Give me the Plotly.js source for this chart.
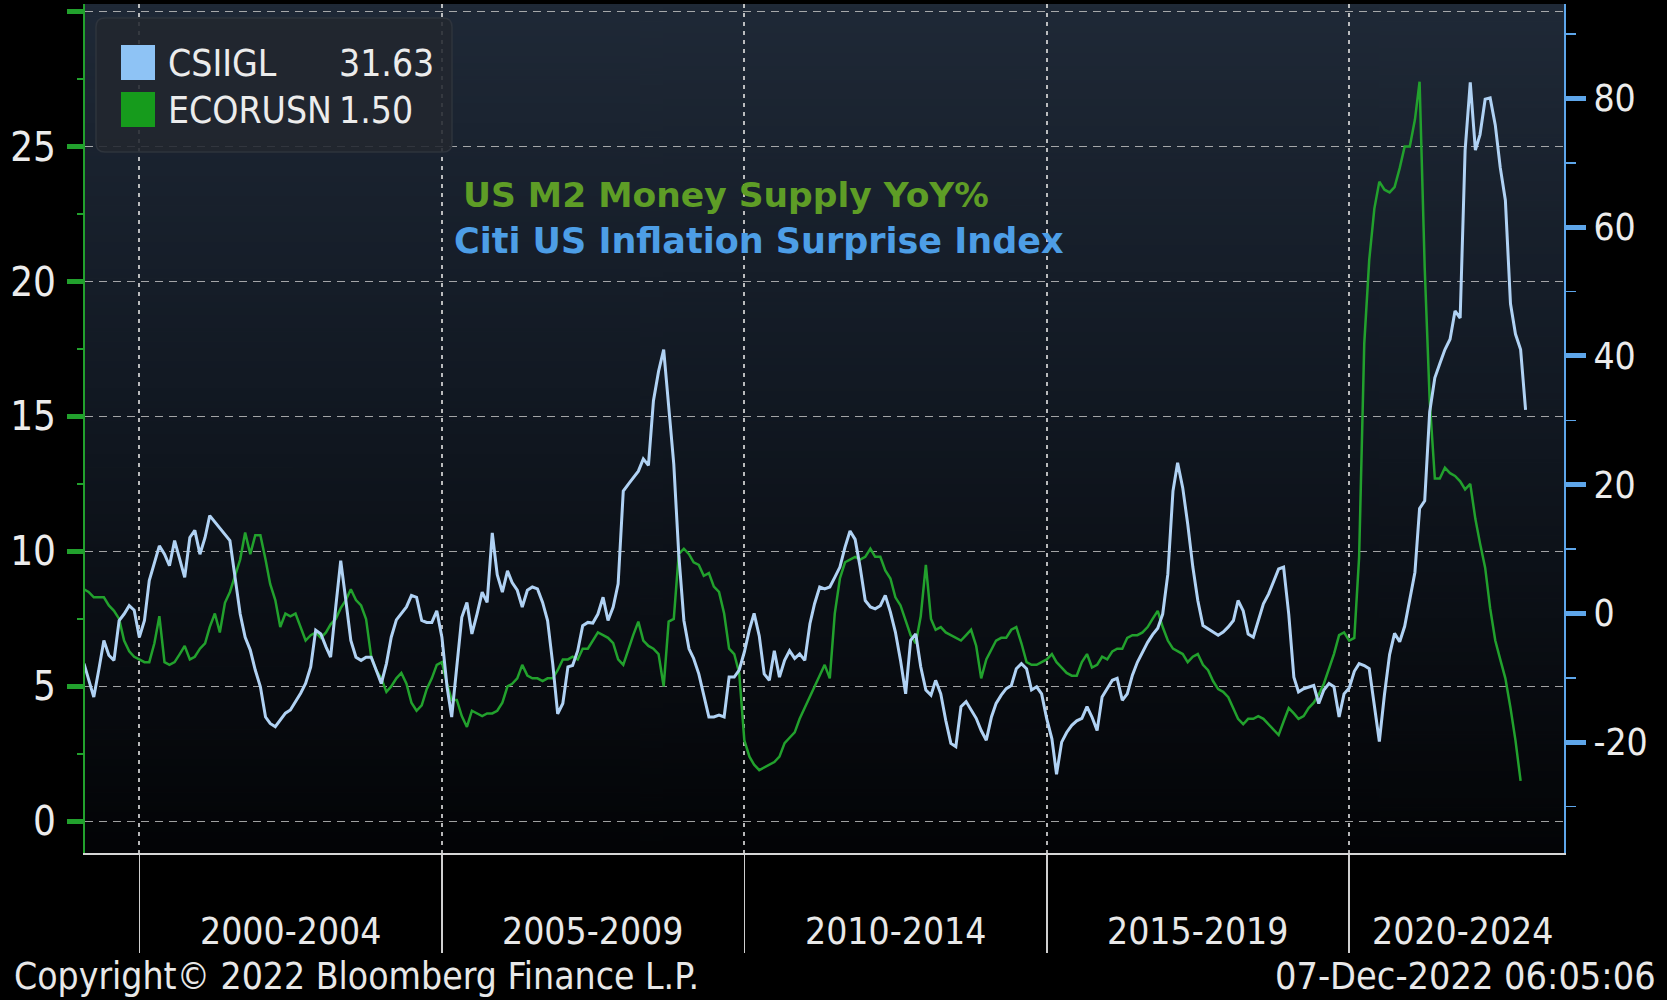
<!DOCTYPE html>
<html>
<head>
<meta charset="utf-8">
<script src="https://cdn.plot.ly/plotly-3.0.1.min.js"></script>
<style>
html,body{margin:0;padding:0;background:#000;}
#chart{width:1667px;height:1000px;}
</style>
</head>
<body>
<div id="chart"></div>
<script>
// ---------------- DATA ----------------
// Monthly observations, first month of both series
const firstMonth = '1999-02';

// CSIIGL - Citi US Inflation Surprise Index (right axis), Feb 1999 .. Dec 2022
const csiiglValues = [
  -7.8, -10.4, -13.0, -8.8, -4.2, -6.5, -7.3, -1.1, -0.1, 1.2, 0.5,
  -3.7, -1.1, 5.1, 7.7, 10.5, 9.2, 7.4, 11.3, 8.2, 5.6, 11.8, 12.9,
  9.2, 11.8, 15.2, 14.2, 13.1, 12.1, 11.3, 5.6, -0.1, -3.7, -5.7, -8.8,
  -11.4, -16.1, -17.1, -17.6, -16.6, -15.5, -15.0, -13.7, -12.4, -10.9, -8.3, -2.6,
  -3.2, -5.2, -6.8, 1.0, 8.2, 2.0, -4.2, -6.8, -7.3, -6.8, -6.8, -8.8,
  -10.9, -7.8, -3.7, -1.0, 0.0, 1.0, 2.8, 2.5, -1.1, -1.4, -1.4, 0.4,
  -3.7, -11.4, -16.1, -7.8, -0.6, 1.7, -3.2, -0.1, 3.3, 1.7, 12.5, 6.0,
  3.3, 6.6, 4.8, 3.6, 1.0, 3.6, 4.1, 3.8, 1.7, -1.1, -7.8, -15.6,
  -14.0, -8.3, -8.1, -5.8, -1.9, -1.4, -1.5, -0.1, 2.5, -1.1, 1.0, 4.6,
  19.0, 20.1, 21.1, 22.1, 24.0, 23.0, 33.0, 37.6, 41.0, 32.0, 23.2, 9.2,
  -1.1, -5.5, -7.0, -9.4, -12.5, -16.1, -16.1, -15.8, -16.1, -9.9, -9.9, -8.8,
  -6.0, -2.5, 0.0, -3.5, -9.4, -10.4, -5.8, -9.9, -7.3, -5.8, -7.0, -6.3,
  -7.3, -1.6, 1.5, 4.1, 3.8, 4.1, 5.6, 7.2, 10.3, 12.8, 11.5, 7.2,
  2.0, 1.0, 0.7, 1.2, 2.8, 0.2, -2.9, -7.3, -12.5, -4.2, -3.2, -8.3,
  -11.9, -12.7, -10.4, -12.5, -16.6, -20.2, -20.7, -14.5, -13.7, -15.0, -16.3, -18.2,
  -19.7, -16.1, -14.0, -12.7, -11.7, -11.2, -8.6, -7.8, -8.6, -11.9, -11.4, -12.5,
  -16.4, -19.5, -25.0, -20.0, -18.5, -17.4, -16.7, -16.3, -14.5, -16.1, -18.2, -13.0,
  -11.7, -10.4, -10.1, -13.5, -12.5, -9.6, -7.6, -6.0, -4.5, -3.3, -2.3, -0.1,
  6.1, 19.0, 23.4, 19.5, 13.9, 7.2, 2.0, -1.9, -2.4, -2.9, -3.4, -2.9,
  -2.1, -1.1, 2.0, 0.4, -3.2, -3.7, -1.1, 1.5, 3.0, 4.8, 6.9, 7.2,
  -0.1, -9.9, -12.2, -11.7, -11.4, -11.2, -14.0, -11.9, -10.9, -11.4, -16.1, -12.5,
  -11.6, -9.0, -7.8, -8.1, -8.6, -14.1, -19.9, -12.6, -6.4, -3.1, -4.4, -2.0,
  2.0, 6.4, 16.3, 17.5, 31.3, 36.6, 38.8, 41.0, 42.6, 47.0, 45.9, 72.0,
  82.5, 72.0, 74.4, 79.9, 80.1, 75.9, 69.3, 64.2, 48.1, 43.4, 41.0, 31.63
];

// ECORUSN - US M2 Money Supply YoY% (left axis), Feb 1999 .. Nov 2022
const ecorusnValues = [
  8.6, 8.5, 8.3, 8.3, 8.3, 8.0, 7.8, 7.5, 6.7, 6.3, 6.1,
  6.0, 5.9, 5.9, 6.6, 7.6, 5.9, 5.8, 5.9, 6.2, 6.5, 6.0, 6.1,
  6.4, 6.6, 7.2, 7.7, 7.0, 8.1, 8.5, 9.1, 9.7, 10.7, 9.9, 10.6,
  10.6, 9.7, 8.8, 8.2, 7.2, 7.7, 7.6, 7.7, 7.2, 6.7, 6.9, 7.0,
  6.8, 7.0, 7.3, 7.5, 7.9, 8.2, 8.6, 8.2, 8.0, 7.5, 6.1, 5.6,
  5.3, 4.8, 5.0, 5.3, 5.5, 5.1, 4.4, 4.1, 4.3, 4.9, 5.3, 5.8,
  5.9, 5.1, 4.5, 4.5, 3.9, 3.5, 4.1, 4.0, 3.9, 4.0, 4.0, 4.1,
  4.4, 5.0, 5.1, 5.3, 5.8, 5.4, 5.3, 5.3, 5.2, 5.3, 5.3, 5.6,
  6.0, 6.0, 6.1, 6.0, 6.4, 6.4, 6.7, 7.0, 6.9, 6.8, 6.6, 6.0,
  5.8, 6.4, 6.9, 7.4, 6.7, 6.5, 6.4, 6.2, 5.0, 7.4, 7.5, 9.9,
  10.1, 9.9, 9.6, 9.5, 9.1, 9.2, 8.7, 8.5, 7.7, 6.4, 6.2, 5.5,
  3.0, 2.4, 2.1, 1.9, 2.0, 2.1, 2.2, 2.4, 2.9, 3.1, 3.3, 3.8,
  4.2, 4.6, 5.0, 5.4, 5.8, 5.3, 7.7, 9.0, 9.6, 9.7, 9.8, 9.7,
  9.8, 10.1, 9.8, 9.8, 9.3, 9.0, 8.3, 8.0, 7.4, 6.9, 6.6, 7.6,
  9.5, 7.5, 7.1, 7.2, 7.0, 6.9, 6.8, 6.7, 6.9, 7.1, 6.5, 5.3,
  6.0, 6.4, 6.7, 6.8, 6.8, 7.1, 7.2, 6.6, 5.9, 5.8, 5.8, 5.9,
  6.0, 6.2, 5.9, 5.7, 5.5, 5.4, 5.4, 5.9, 6.2, 5.7, 5.8, 6.1,
  6.0, 6.3, 6.4, 6.4, 6.8, 6.9, 6.9, 7.0, 7.2, 7.5, 7.8, 7.2,
  6.7, 6.4, 6.3, 6.2, 5.9, 6.1, 6.2, 5.8, 5.6, 5.2, 4.9, 4.8,
  4.6, 4.2, 3.8, 3.6, 3.8, 3.8, 3.9, 3.8, 3.6, 3.4, 3.2, 3.7,
  4.2, 4.0, 3.8, 3.9, 4.2, 4.4, 4.7, 5.1, 5.7, 6.2, 6.9, 7.0,
  6.7, 6.8, 9.8, 17.7, 20.8, 22.7, 23.7, 23.4, 23.3, 23.5, 24.2, 25.0,
  25.0, 26.0, 27.4, 20.5, 15.6, 12.7, 12.7, 13.1, 12.9, 12.8, 12.6, 12.3,
  12.5, 11.2, 10.3, 9.4, 7.9, 6.7, 6.0, 5.3, 4.2, 3.0, 1.50
];

const seriesNames = ['CSIIGL', 'ECORUSN'];
const lastValues = ['31.63', '1.50'];
const titleM2 = 'US M2 Money Supply YoY%';
const titleCiti = 'Citi US Inflation Surprise Index';

const periodBounds = ['2000-01-01', '2005-01-01', '2010-01-01', '2015-01-01', '2020-01-01'];
const periodLabels = ['2000-2004', '2005-2009', '2010-2014', '2015-2019', '2020-2024'];
const periodLabelAt = ['2002-07-02', '2007-07-02', '2012-07-02', '2017-07-02', '2021-11-17'];

const leftTicks = [0, 5, 10, 15, 20, 25, 30];
const leftTickText = ['0', '5', '10', '15', '20', '25', ''];
const leftMinor = [2.5, 7.5, 12.5, 17.5, 22.5, 27.5];
const rightTicks = [-20, 0, 20, 40, 60, 80];
const rightTickText = ['-20', '0', '20', '40', '60', '80'];
const rightMinor = [-30, -10, 10, 30, 50, 70, 90];

const footerLeft = 'Copyright\u00A9 2022 Bloomberg Finance L.P.';
const footerRight = '07-Dec-2022 06:05:06';

// ---------------- HELPERS ----------------
function monthDates(start, n) {
  const [y, m] = start.split('-').map(Number);
  const out = [];
  for (let i = 0; i < n; i++) {
    const t = (m - 1) + i;
    const yy = y + Math.floor(t / 12);
    const mm = (t % 12) + 1;
    out.push(yy + '-' + String(mm).padStart(2, '0') + '-01');
  }
  return out;
}

// vertical gradient for plot background
const cv = document.createElement('canvas');
cv.width = 4; cv.height = 512;
const ctx = cv.getContext('2d');
const grad = ctx.createLinearGradient(0, 0, 0, 512);
grad.addColorStop(0, '#1f2937');
grad.addColorStop(0.45, '#121923');
grad.addColorStop(1, '#030406');
ctx.fillStyle = grad;
ctx.fillRect(0, 0, 4, 512);
const bgURL = cv.toDataURL('image/png');

const FONT = '"DejaVu Sans Condensed", "Liberation Sans Narrow", "Liberation Sans", sans-serif';
const GREEN = '#22a12d';
const BLUE_AXIS = '#5ea6ea';

// ---------------- TRACES ----------------
const traceM2 = {
  type: 'scatter', mode: 'lines',
  name: seriesNames[1],
  x: monthDates(firstMonth, ecorusnValues.length),
  y: ecorusnValues,
  yaxis: 'y',
  line: {color: GREEN, width: 2.5},
  hoverinfo: 'x+y+name'
};
const traceCiti = {
  type: 'scatter', mode: 'lines',
  name: seriesNames[0],
  x: monthDates(firstMonth, csiiglValues.length),
  y: csiiglValues,
  yaxis: 'y2',
  line: {color: '#b0d2f4', width: 3},
  hoverinfo: 'x+y+name'
};

// ---------------- LAYOUT ----------------
// plot area: left 85, right 1564, top 4, bottom 853
const PW = 1479, PH = 849, PL = 85, PB = 853;
const px = xf => (xf - PL) / PW;
const py = yf => (PB - yf) / PH;

function roundRect(x0, y0, x1, y1, r) {
  const rx = r / PW, ry = r / PH;
  const X0 = px(x0), X1 = px(x1), Y0 = py(y1), Y1 = py(y0);
  return `M${X0 + rx},${Y1} L${X1 - rx},${Y1} Q${X1},${Y1} ${X1},${Y1 - ry} ` +
         `L${X1},${Y0 + ry} Q${X1},${Y0} ${X1 - rx},${Y0} L${X0 + rx},${Y0} ` +
         `Q${X0},${Y0} ${X0},${Y0 + ry} L${X0},${Y1 - ry} Q${X0},${Y1} ${X0 + rx},${Y1} Z`;
}

const annotations = [];
periodLabels.forEach((lab, i) => {
  annotations.push({
    text: lab, x: periodLabelAt[i], xref: 'x', y: py(931), yref: 'paper',
    showarrow: false, xanchor: 'center', yanchor: 'middle',
    font: {family: FONT, size: 37, color: '#e8e8e8'}
  });
});
annotations.push({
  text: footerLeft, x: px(13), y: py(999), xref: 'paper', yref: 'paper',
  showarrow: false, xanchor: 'left', yanchor: 'bottom', borderpad: 0,
  font: {family: FONT, size: 37, color: '#e8e8e8'}
});
annotations.push({
  text: footerRight, x: px(1657), y: py(999), xref: 'paper', yref: 'paper',
  showarrow: false, xanchor: 'right', yanchor: 'bottom', borderpad: 0,
  font: {family: FONT, size: 37.5, color: '#e8e8e8'}
});
annotations.push({
  text: titleM2, x: px(726), y: py(195), xref: 'paper', yref: 'paper',
  showarrow: false, xanchor: 'center', yanchor: 'middle',
  font: {family: '"DejaVu Sans", sans-serif', size: 34.5, color: '#5e9d26', weight: 'bold'}
});
annotations.push({
  text: titleCiti, x: px(759), y: py(241), xref: 'paper', yref: 'paper',
  showarrow: false, xanchor: 'center', yanchor: 'middle',
  font: {family: '"DejaVu Sans", sans-serif', size: 35, color: '#4d9ee6', weight: 'bold'}
});
// legend texts
annotations.push({text: seriesNames[0], x: px(166), y: py(63), xref: 'paper', yref: 'paper',
  showarrow: false, xanchor: 'left', yanchor: 'middle', font: {family: FONT, size: 37, color: '#ececec'}});
annotations.push({text: seriesNames[1], x: px(166), y: py(110), xref: 'paper', yref: 'paper',
  showarrow: false, xanchor: 'left', yanchor: 'middle', font: {family: FONT, size: 37, color: '#ececec'}});
annotations.push({text: lastValues[0], x: px(337), y: py(63), xref: 'paper', yref: 'paper',
  showarrow: false, xanchor: 'left', yanchor: 'middle', font: {family: FONT, size: 37, color: '#ececec'}});
annotations.push({text: lastValues[1], x: px(337), y: py(110), xref: 'paper', yref: 'paper',
  showarrow: false, xanchor: 'left', yanchor: 'middle', font: {family: FONT, size: 37, color: '#ececec'}});

const shapes = [
  {type: 'path', xref: 'paper', yref: 'paper', path: roundRect(96, 18, 452, 152, 9),
   fillcolor: 'rgba(34,39,47,0.88)', line: {color: '#2e343d', width: 1.5}, layer: 'above'},
  {type: 'rect', xref: 'paper', yref: 'paper', x0: px(121), x1: px(155), y0: py(80), y1: py(45),
   fillcolor: '#8ec3f5', line: {width: 0}, layer: 'above'},
  {type: 'rect', xref: 'paper', yref: 'paper', x0: px(121), x1: px(155), y0: py(127), y1: py(92),
   fillcolor: '#169b1c', line: {width: 0}, layer: 'above'}
];

const layout = {
  width: 1667, height: 1000,
  margin: {l: PL, r: 1667 - PL - PW, t: 4, b: 1000 - PB, pad: 0},
  paper_bgcolor: '#000000',
  plot_bgcolor: 'rgba(0,0,0,0)',
  showlegend: false,
  font: {family: FONT, color: '#e8e8e8', size: 36},
  images: [{source: bgURL, xref: 'paper', yref: 'paper', x: 0, y: 1, sizex: 1, sizey: 1,
            sizing: 'stretch', xanchor: 'left', yanchor: 'top', layer: 'below'}],
  xaxis: {
    type: 'date', range: ['1999-02-07', '2023-07-21'],
    tickmode: 'array', tickvals: periodBounds, showticklabels: false,
    ticks: 'outside', ticklen: 98, tickwidth: 1.5, tickcolor: '#cfcfcf',
    showgrid: true, gridcolor: 'rgba(215,215,215,0.85)', griddash: '4px,5px', gridwidth: 2,
    showline: true, linecolor: '#d6d6d6', linewidth: 2, zeroline: false, fixedrange: true
  },
  yaxis: {
    range: [-1.17, 30.28], tickmode: 'array', tickvals: leftTicks, ticktext: leftTickText,
    ticks: 'outside', ticklen: 16, tickwidth: 5, tickcolor: GREEN,
    showline: true, linecolor: GREEN, linewidth: 2,
    showgrid: true, gridcolor: 'rgba(200,200,200,0.8)', griddash: '8px,6px', gridwidth: 1.5,
    zeroline: false, tickfont: {family: FONT, size: 40, color: '#ececec'}, ticklabelstandoff: 3,
    minor: {tickvals: leftMinor, ticks: 'outside', ticklen: 6, tickwidth: 1.5, tickcolor: GREEN, showgrid: false},
    fixedrange: true
  },
  yaxis2: {
    overlaying: 'y', side: 'right', range: [-37.23, 94.69],
    tickmode: 'array', tickvals: rightTicks, ticktext: rightTickText,
    ticks: 'outside', ticklen: 20, tickwidth: 5, tickcolor: BLUE_AXIS,
    showline: true, linecolor: BLUE_AXIS, linewidth: 2,
    showgrid: false, zeroline: false,
    tickfont: {family: FONT, size: 37, color: '#ececec'}, ticklabelstandoff: 0,
    minor: {tickvals: rightMinor, ticks: 'outside', ticklen: 10, tickwidth: 1.5, tickcolor: BLUE_AXIS, showgrid: false},
    fixedrange: true
  },
  annotations: annotations,
  shapes: shapes
};

Plotly.newPlot('chart', [traceM2, traceCiti], layout, {displayModeBar: false, staticPlot: true});
</script>
</body>
</html>
